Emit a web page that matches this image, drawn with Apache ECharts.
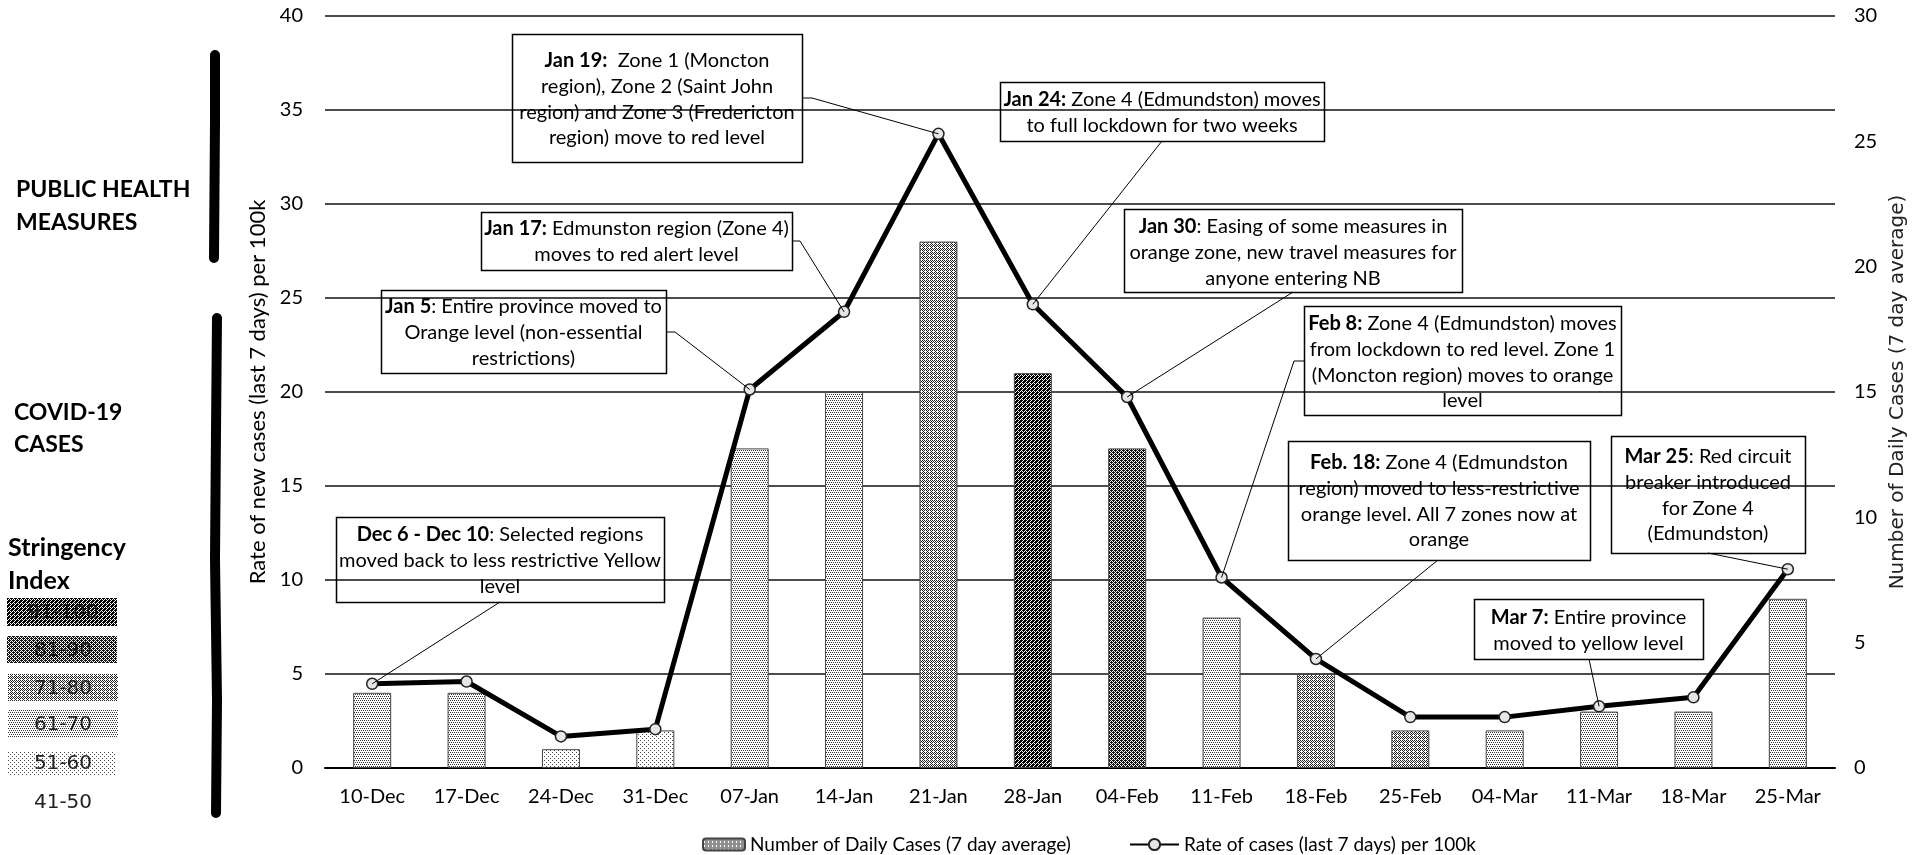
<!DOCTYPE html>
<html>
<head>
<meta charset="utf-8">
<script src="https://cdn.jsdelivr.net/npm/echarts@6/dist/echarts.min.js"></script>
<style>
  html, body { margin: 0; padding: 0; background: #fff; }
  #chart { width: 1921px; height: 855px; }
</style>
</head>
<body>
<div id="chart"></div>
<script>
// ---- data ----
const categories = ['10-Dec', '17-Dec', '24-Dec', '31-Dec', '07-Jan', '14-Jan', '21-Jan', '28-Jan',
  '04-Feb', '11-Feb', '18-Feb', '25-Feb', '04-Mar', '11-Mar', '18-Mar', '25-Mar'];
const dailyCases = [4, 4, 1, 2, 17, 20, 28, 21, 17, 8, 5, 2, 2, 3, 3, 9];
const ratePer100k = [3.36, 3.45, 1.26, 1.55, 15.1, 18.2, 25.3, 18.5, 14.8, 7.6, 4.35, 2.03, 2.03, 2.46, 2.82, 7.93];
const stringencyBand = ['61-70', '61-70', '51-60', '51-60', '61-70', '61-70', '71-80', '91-100',
  '81-90', '61-70', '71-80', '71-80', '61-70', '61-70', '61-70', '61-70'];
const stringencyLevels = ['91-100', '81-90', '71-80', '61-70', '51-60', '41-50'];
const barName = 'Number of Daily Cases (7 day average)';
const lineName = 'Rate of cases (last 7 days) per 100k';
const leftAxisTitle = 'Rate of new cases (last 7 days) per 100k';
const rightAxisTitle = 'Number of Daily Cases (7 day average)';

// Event notes: date they point at, bold lead-in, and the lines of text
const events = [
  { at: '10-Dec', lines: ['{b|Dec 6 - Dec 10}: Selected regions', 'moved back to less restrictive Yellow', 'level'] },
  { at: '07-Jan', lines: ['{b|Jan 5}: Entire province moved to', 'Orange level (non-essential', 'restrictions)'] },
  { at: '14-Jan', lines: ['{b|Jan 17:} Edmunston region (Zone 4)', 'moves to red alert level'] },
  { at: '21-Jan', lines: ['{b|Jan 19:}  Zone 1 (Moncton', 'region), Zone 2 (Saint John', 'region) and Zone 3 (Fredericton', 'region) move to red level'] },
  { at: '28-Jan', lines: ['{b|Jan 24:} Zone 4 (Edmundston) moves', 'to full lockdown for two weeks'] },
  { at: '04-Feb', lines: ['{b|Jan 30}: Easing of some measures in', 'orange zone, new travel measures for', 'anyone entering NB'] },
  { at: '11-Feb', lines: ['{b|Feb 8:} Zone 4 (Edmundston) moves', 'from lockdown to red level. Zone 1', '(Moncton region) moves to orange', 'level'] },
  { at: '18-Feb', lines: ['{b|Feb. 18:} Zone 4 (Edmundston', 'region) moved to less-restrictive', 'orange level. All 7 zones now at', 'orange'] },
  { at: '25-Mar', lines: ['{b|Mar 25}: Red circuit', 'breaker introduced', 'for Zone 4', '(Edmundston)'] },
  { at: '11-Mar', lines: ['{b|Mar 7:} Entire province', 'moved to yellow level'] }
];

// ---- layout of the note boxes (pixel placement), same order as events ----
const noteLayout = [
  { box: [336, 517, 328, 85], firstLine: 535, leader: [[500, 602]] },
  { box: [381, 290, 285, 83], firstLine: 307, leader: [[666, 332], [675, 332]] },
  { box: [481, 212, 311, 58], firstLine: 229, leader: [[792, 241], [800, 241]] },
  { box: [512, 34, 290, 128], firstLine: 61, leader: [[802, 98], [812, 98]] },
  { box: [1000, 82, 324, 59], firstLine: 100, leader: [[1162, 141]] },
  { box: [1124, 209, 338, 83], firstLine: 227, leader: [[1293, 292]] },
  { box: [1304, 306, 317, 109], firstLine: 324, leader: [[1304, 361], [1294, 361]] },
  { box: [1288, 441, 302, 119], firstLine: 463, leader: [[1438, 560]] },
  { box: [1611, 436, 194, 117], firstLine: 457, leader: [[1708, 553]] },
  { box: [1474, 599, 229, 60], firstLine: 618, leader: [[1589, 659]] }
];

const FONT = 'Lato, "Open Sans", sans-serif';
const WIDE = '"DejaVu Sans", Verdana, sans-serif';
const NOTE_SIZE = 20;

// ---- dot / hatch fills for the stringency bands ----
function tile(size, cells, color) {
  const c = document.createElement('canvas');
  c.width = size; c.height = size;
  const ctx = c.getContext('2d');
  ctx.fillStyle = '#ffffff';
  ctx.fillRect(0, 0, size, size);
  ctx.fillStyle = color;
  cells.forEach(([x, y]) => ctx.fillRect(x, y, 1, 1));
  return { image: c, repeat: 'repeat' };
}
const fills = {
  '51-60': tile(4, [[0, 0], [2, 2]], '#444'),
  '61-70': tile(4, [[0, 0], [2, 0], [1, 2], [3, 2]], '#333'),
  '71-80': tile(4, [[0, 0], [1, 1], [2, 2], [3, 3], [2, 0], [0, 2], [3, 1]], '#222'),
  '81-90': tile(4, [[0, 0], [2, 0], [1, 1], [3, 1], [0, 2], [2, 2], [1, 3], [3, 3], [1, 0], [3, 2]], '#111'),
  '91-100': tile(4, [[0, 0], [1, 0], [2, 0], [1, 1], [3, 1], [0, 2], [2, 2], [3, 2], [1, 3], [3, 3], [0, 1]], '#000')
};

const chart = echarts.init(document.getElementById('chart'), null, { renderer: 'canvas' });

const option = {
  animation: false,
  backgroundColor: '#fff',
  textStyle: { fontFamily: FONT, color: '#000' },
  grid: { left: 325, right: 86, top: 16, bottom: 87 },
  legend: [
    {
      data: [barName], left: 697, top: 830, itemWidth: 42, itemHeight: 12, itemGap: 6,
      textStyle: { fontFamily: FONT, fontSize: 19, color: '#000' }
    },
    {
      data: [lineName], left: 1124, top: 830, itemWidth: 49, itemHeight: 14, itemGap: 6,
      textStyle: { fontFamily: FONT, fontSize: 19, color: '#000' }
    }
  ],
  xAxis: {
    type: 'category',
    data: categories,
    axisLine: { lineStyle: { color: '#000', width: 2 } },
    axisTick: { show: false },
    axisLabel: { interval: 0, margin: 19, fontSize: 20, fontFamily: FONT, color: '#000' }
  },
  yAxis: [
    {
      type: 'value', min: 0, max: 40, interval: 5,
      name: leftAxisTitle, nameLocation: 'middle', nameGap: 47,
      nameTextStyle: { fontSize: 22, fontFamily: FONT, color: '#000' },
      axisLine: { show: false }, axisTick: { show: false },
      axisLabel: { margin: 22, fontSize: 20, fontFamily: FONT, color: '#000' },
      splitLine: { lineStyle: { color: '#111', width: 1.5 } }
    },
    {
      type: 'value', min: 0, max: 30, interval: 5,
      name: rightAxisTitle, nameLocation: 'middle', nameGap: 51,
      nameTextStyle: { fontSize: 20, fontFamily: WIDE, color: '#222' },
      axisLine: { show: false }, axisTick: { show: false },
      axisLabel: { margin: 19, fontSize: 20, fontFamily: FONT, color: '#000' },
      splitLine: { show: false }
    }
  ],
  series: [
    {
      name: barName,
      type: 'bar',
      yAxisIndex: 0,
      barWidth: 38,
      itemStyle: { color: fills['71-80'], borderColor: '#444', borderWidth: 1 },
      data: dailyCases.map((v, i) => ({
        value: v,
        itemStyle: { color: fills[stringencyBand[i]], borderColor: '#444', borderWidth: 1 }
      }))
    },
    {
      name: lineName,
      type: 'line',
      yAxisIndex: 1,
      z: 5,
      symbol: 'circle',
      symbolSize: 11,
      lineStyle: { color: '#000', width: 5 },
      itemStyle: { color: '#e6e6e6', borderColor: '#222', borderWidth: 1.5 },
      data: ratePer100k
    }
  ]
};
chart.setOption(option);

// ---- notes, leaders and the left-hand panel ----
const graphics = [];
const LINE_H = 25.6;

events.forEach((ev, k) => {
  const lay = noteLayout[k];
  const [bx, by, bw, bh] = lay.box;
  const idx = categories.indexOf(ev.at);
  const target = chart.convertToPixel({ xAxisIndex: 0, yAxisIndex: 1 }, [idx, ratePer100k[idx]]);
  graphics.push({
    type: 'polyline', z: 20, silent: true,
    shape: { points: lay.leader.concat([target]) },
    style: { stroke: '#000', lineWidth: 1, fill: null }
  });
  graphics.push({
    type: 'rect', z: 20, silent: true,
    shape: { x: bx + 0.5, y: by + 0.5, width: bw, height: bh },
    style: { fill: null, stroke: '#000', lineWidth: 1.5 }
  });
  ev.lines.forEach((ln, j) => {
    graphics.push({
      type: 'text', z: 21, silent: true,
      x: bx + bw / 2, y: lay.firstLine + j * LINE_H,
      style: {
        text: ln, align: 'center', verticalAlign: 'middle',
        fontSize: NOTE_SIZE, fontFamily: FONT, fill: '#000',
        rich: {
          b: { fontSize: NOTE_SIZE, fontFamily: FONT, fontWeight: 'bold', fill: '#000' }
        }
      }
    });
  });
});

// section headings on the left
const headings = [
  { text: 'PUBLIC HEALTH', x: 16, y: 190, size: 23 },
  { text: 'MEASURES', x: 16, y: 223, size: 23 },
  { text: 'COVID-19', x: 14, y: 413, size: 23 },
  { text: 'CASES', x: 14, y: 445, size: 23 },
  { text: 'Stringency', x: 8, y: 548, size: 25 },
  { text: 'Index', x: 8, y: 581, size: 25 }
];
headings.forEach(h => graphics.push({
  type: 'text', silent: true, x: h.x, y: h.y,
  style: { text: h.text, align: 'left', verticalAlign: 'middle', fontSize: h.size, fontWeight: 'bold', fontFamily: FONT, fill: '#000' }
}));

// thick brackets beside the headings
[[[215, 55], [215, 120], [214, 258]], [[217, 318], [216, 430], [215, 560], [217, 700], [216, 813]]].forEach(pts => graphics.push({
  type: 'polyline', silent: true,
  shape: { points: pts },
  style: { stroke: '#000', lineWidth: 10, lineCap: 'round', lineJoin: 'round', fill: null }
}));

// stringency key
const keyRows = [
  { y: 598, h: 28, x: 7, w: 110 },
  { y: 636, h: 27, x: 7, w: 110 },
  { y: 674, h: 27, x: 8, w: 110 },
  { y: 710, h: 27, x: 8, w: 110 },
  { y: 751, h: 24, x: 8, w: 107 },
  { y: 790, h: 24, x: 8, w: 110 }
];
stringencyLevels.forEach((lvl, i) => {
  const r = keyRows[i];
  if (fills[lvl]) {
    graphics.push({
      type: 'rect', silent: true,
      shape: { x: r.x, y: r.y, width: r.w, height: r.h },
      style: { fill: fills[lvl], stroke: null }
    });
  }
  graphics.push({
    type: 'text', silent: true, x: 63, y: r.y + r.h / 2 + 1,
    style: { text: lvl, align: 'center', verticalAlign: 'middle', fontSize: 20, fontFamily: WIDE, fill: i < 2 ? '#111' : '#222' }
  });
});

chart.setOption({ graphic: graphics });
</script>
</body>
</html>
